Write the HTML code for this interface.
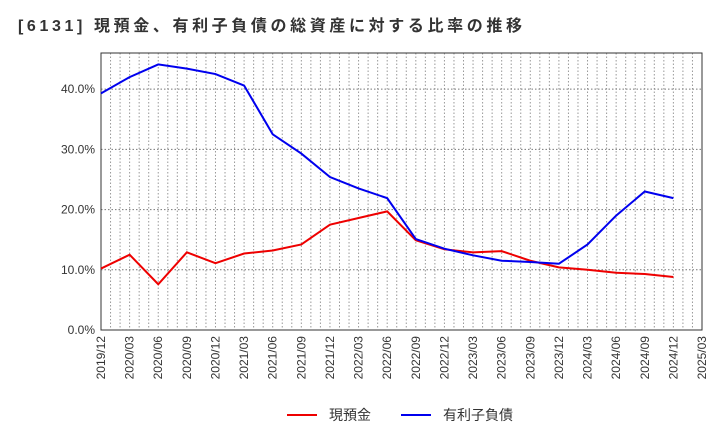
<!DOCTYPE html>
<html><head><meta charset="utf-8"><style>
body{margin:0;background:#fff;font-family:"Liberation Sans","Noto Sans CJK JP",sans-serif;}
</style></head><body>
<svg id="c" width="720" height="440" xmlns="http://www.w3.org/2000/svg">
<text x="18" y="31" font-size="16" font-weight="bold" fill="#333" textLength="504" lengthAdjust="spacing" font-family="Liberation Sans,Noto Sans CJK JP,sans-serif">[6131]  現預金、有利子負債の総資産に対する比率の推移</text>
</svg>
<script>
const categories=["2019/12","2020/03","2020/06","2020/09","2020/12","2021/03","2021/06","2021/09","2021/12","2022/03","2022/06","2022/09","2022/12","2023/03","2023/06","2023/09","2023/12","2024/03","2024/06","2024/09","2024/12","2025/03"];
const cashValues=[10.2,12.5,7.6,12.9,11.1,12.7,13.2,14.2,17.5,18.6,19.7,14.9,13.4,12.9,13.1,11.5,10.4,10.0,9.5,9.3,8.8];
const debtValues=[39.3,42.0,44.1,43.4,42.5,40.6,32.5,29.3,25.4,23.5,21.9,15.1,13.5,12.4,11.5,11.3,11.0,14.2,19.0,23.0,21.9];
const yTicks=[0,10,20,30,40];
const svg=document.getElementById('c');
const NS='http://www.w3.org/2000/svg';
const L=101,R=702,T=53,B=330,YMAX=46;
const xs=i=>L+(R-L)*i/(categories.length-1);
const ys=v=>B-(B-T)*v/YMAX;
function mk(t,a){const e=document.createElementNS(NS,t);for(const k in a)e.setAttribute(k,a[k]);svg.appendChild(e);return e;}
for(let m=1;m<(categories.length-1)*3;m++){const x=L+(R-L)*m/((categories.length-1)*3);
const g=mk('line',{x1:x,x2:x,y1:T,y2:B,stroke:'#999','stroke-dasharray':'1.5,2','stroke-width':1});

}
yTicks.forEach(v=>{const y=ys(v);
if(v>0){const g=mk('line',{x1:L,x2:R,y1:y,y2:y,stroke:'#777','stroke-dasharray':'1.5,2'});

}
const t=mk('text',{x:L-6,y:y+4,'text-anchor':'end','font-size':12,fill:'#333'});t.textContent=v.toFixed(1)+'%';

});
const fr=mk('rect',{x:L,y:T,width:R-L,height:B-T,fill:'none',stroke:'#333'});


categories.forEach((c,i)=>{const x=xs(i);
const t=mk('text',{x:x+4,y:B+6,'text-anchor':'end','font-size':12,fill:'#333',transform:`rotate(-90 ${x+4} ${B+6})`});t.textContent=c;

});
function series(vals,color,name){const p=mk('polyline',{points:vals.map((v,i)=>xs(i)+','+ys(v)).join(' '),fill:'none',stroke:color,'stroke-width':2});

}
series(cashValues,'#ee0000','cash-line');
series(debtValues,'#0000ee','debt-line');
const l1=mk('line',{x1:287,x2:317,y1:415,y2:415,stroke:'#ee0000','stroke-width':2});


const t1=mk('text',{x:329,y:420,'font-size':14,fill:'#333'});t1.textContent='現預金';


const l2=mk('line',{x1:401,x2:431,y1:415,y2:415,stroke:'#0000ee','stroke-width':2});


const t2=mk('text',{x:443,y:420,'font-size':14,fill:'#333'});t2.textContent='有利子負債';


</script>
</body></html>
